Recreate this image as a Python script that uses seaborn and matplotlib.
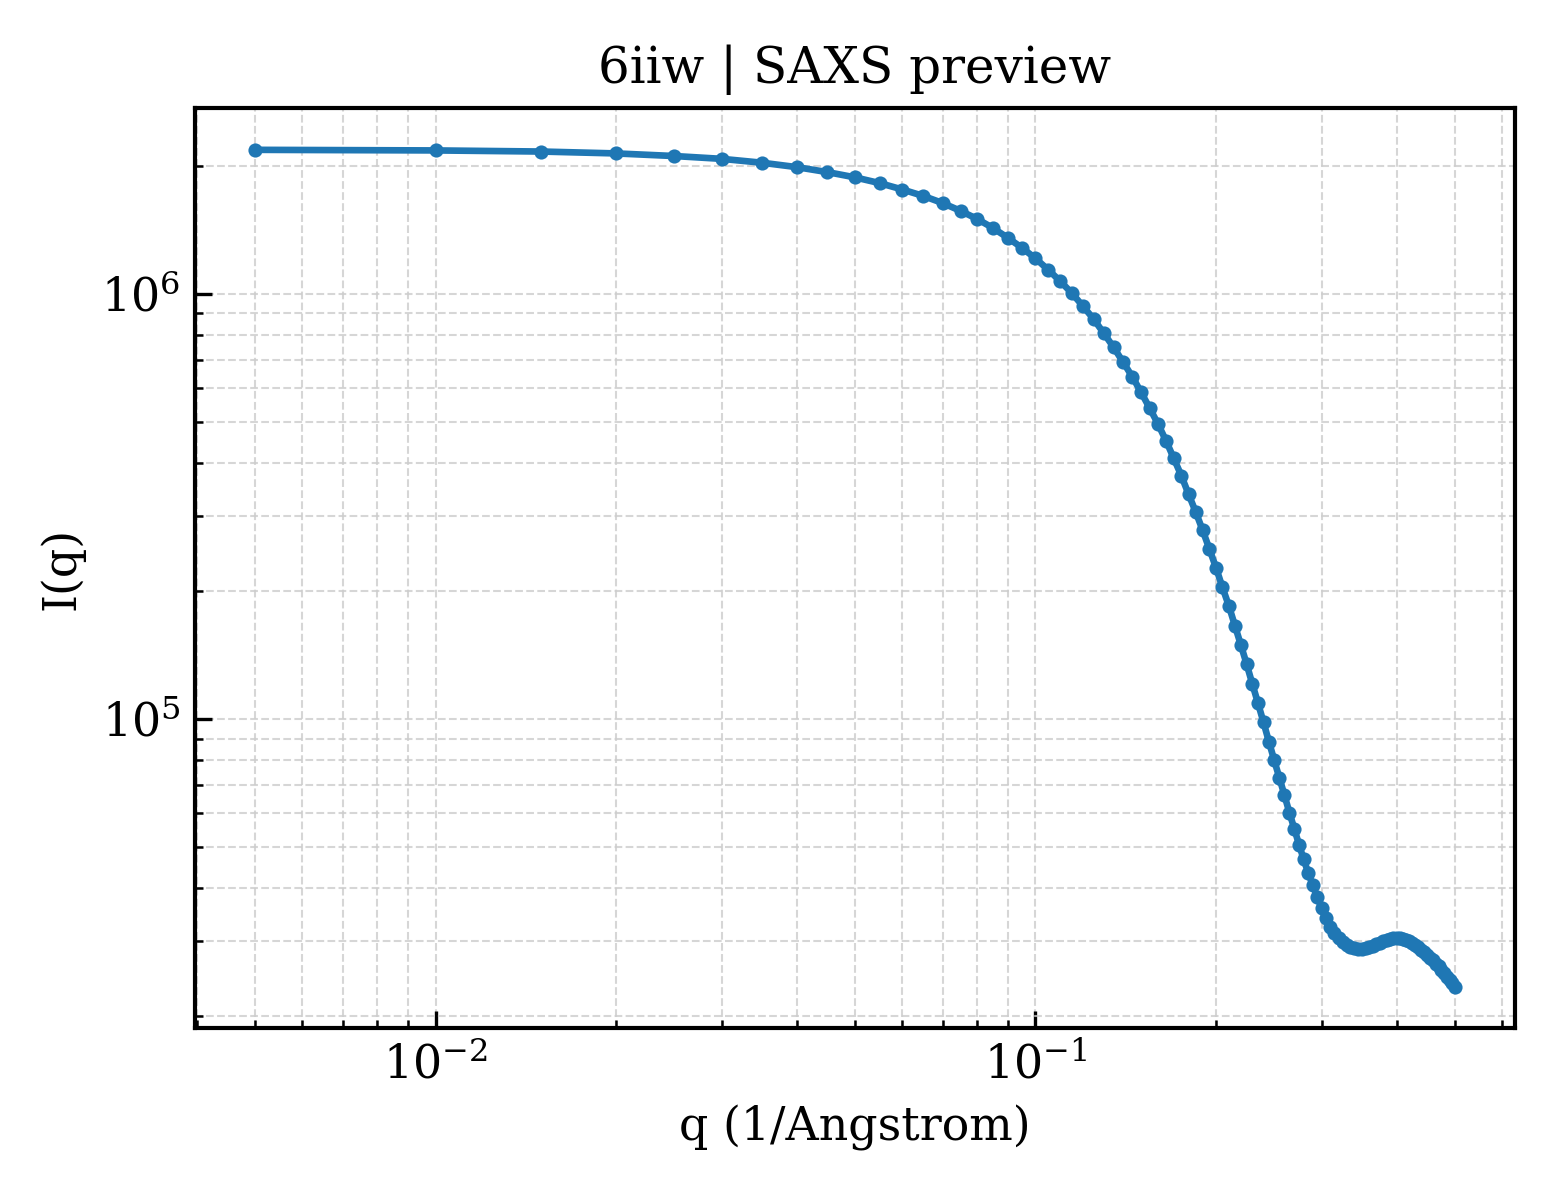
import numpy as np
import pandas as pd
import matplotlib
matplotlib.use("Agg")
import matplotlib.pyplot as plt
import seaborn as sns

# q grid (1/Angstrom) and intensity
q = [0.005, 0.010, 0.015, 0.020, 0.025, 0.030, 0.035, 0.040, 0.045, 0.050,
     0.055, 0.060, 0.065, 0.070, 0.075, 0.080, 0.085, 0.090, 0.095, 0.100,
     0.105, 0.110, 0.115, 0.120, 0.125, 0.130, 0.135, 0.140, 0.145, 0.150,
     0.155, 0.160, 0.165, 0.170, 0.175, 0.180, 0.185, 0.190, 0.195, 0.200,
     0.205, 0.210, 0.215, 0.220, 0.225, 0.230, 0.235, 0.240, 0.245, 0.250,
     0.255, 0.260, 0.265, 0.270, 0.275, 0.280, 0.285, 0.290, 0.295, 0.300,
     0.305, 0.310, 0.315, 0.320, 0.325, 0.330, 0.335, 0.340, 0.345, 0.350,
     0.355, 0.360, 0.365, 0.370, 0.375, 0.380, 0.385, 0.390, 0.395, 0.400,
     0.405, 0.410, 0.415, 0.420, 0.425, 0.430, 0.435, 0.440, 0.445, 0.450,
     0.455, 0.460, 0.465, 0.470, 0.475, 0.480, 0.485, 0.490, 0.495, 0.500]

intensity = [2.182e6, 2.175e6, 2.162e6, 2.140e6, 2.110e6, 2.078e6, 2.035e6, 1.987e6, 1.934e6, 1.880e6,
             1.822e6, 1.760e6, 1.700e6, 1.636e6, 1.568e6, 1.500e6, 1.428e6, 1.354e6, 1.283e6, 1.212e6,
             1.140e6, 1.071e6, 1.004e6, 9.36e5, 8.73e5, 8.08e5, 7.49e5, 6.91e5, 6.39e5, 5.87e5,
             5.39e5, 4.95e5, 4.52e5, 4.11e5, 3.74e5, 3.38e5, 3.07e5, 2.78e5, 2.51e5, 2.27e5,
             2.04e5, 1.85e5, 1.66e5, 1.494e5, 1.345e5, 1.207e5, 1.089e5, 9.82e4, 8.85e4, 8.01e4,
             7.28e4, 6.63e4, 6.03e4, 5.53e4, 5.07e4, 4.68e4, 4.34e4, 4.07e4, 3.81e4, 3.60e4,
             3.41e4, 3.25e4, 3.14e4, 3.05e4, 2.99e4, 2.94e4, 2.91e4, 2.89e4, 2.88e4, 2.88e4,
             2.89e4, 2.91e4, 2.93e4, 2.96e4, 2.98e4, 3.00e4, 3.02e4, 3.04e4, 3.05e4, 3.055e4,
             3.05e4, 3.04e4, 3.02e4, 3.00e4, 2.97e4, 2.94e4, 2.91e4, 2.87e4, 2.83e4, 2.79e4,
             2.75e4, 2.71e4, 2.66e4, 2.62e4, 2.57e4, 2.53e4, 2.48e4, 2.44e4, 2.39e4, 2.35e4]

df = pd.DataFrame({"q": q, "I": intensity})

sns.set_style("white")
plt.rcParams["font.family"] = ["DejaVu Serif"]
plt.rcParams["text.color"] = "black"
plt.rcParams["axes.labelcolor"] = "black"
plt.rcParams["xtick.color"] = "black"
plt.rcParams["ytick.color"] = "black"
plt.rcParams["xtick.bottom"] = True
plt.rcParams["ytick.left"] = True

fig, ax = plt.subplots(figsize=(5.2, 4), dpi=300)
sns.lineplot(data=df, x="q", y="I", ax=ax, color="#1f77b4", linewidth=1.6,
             marker="o", markersize=3.4, markeredgewidth=0, markeredgecolor="#1f77b4")
ax.set_xscale("log")
ax.set_yscale("log")

ax.grid(True, which="both", linestyle="--", linewidth=0.5, color="#cccccc", alpha=0.8)
for s in ax.spines.values():
    s.set_color("black")
    s.set_linewidth(1.0)
ax.tick_params(which="both", direction="in", colors="black", labelsize=11)
ax.tick_params(which="major", length=4, width=0.8)
ax.tick_params(which="minor", length=2, width=0.6)

ax.set_title("6iiw | SAXS preview", fontsize=12, color="black")
ax.set_xlabel("q (1/Angstrom)", fontsize=11)
ax.set_ylabel("I(q)", fontsize=11)

fig.subplots_adjust(left=0.125, right=0.971, top=0.91, bottom=0.143)
fig.savefig("out.png", dpi=300)
